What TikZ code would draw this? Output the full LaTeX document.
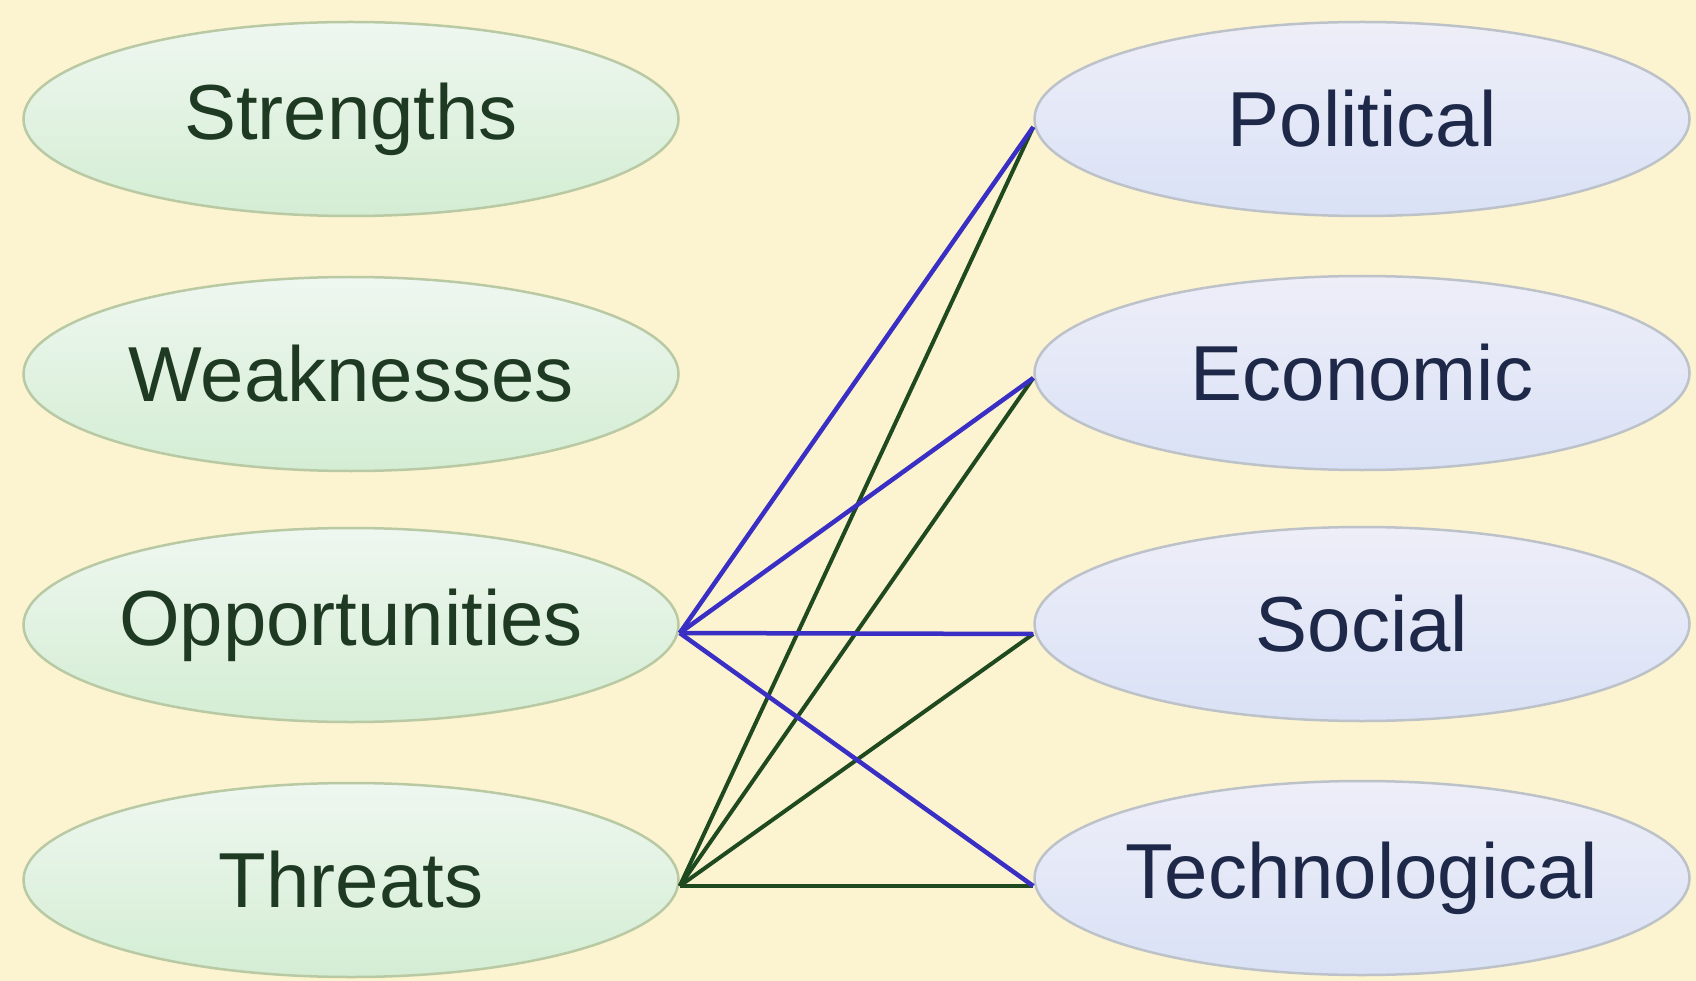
\documentclass[tikz,border=0pt]{standalone}
\usepackage{fontspec}
\setmainfont{Liberation Sans}
\usetikzlibrary{shapes.geometric}
\definecolor{bgc}{HTML}{FCF4D0}
\definecolor{gtop}{HTML}{EFF7F0}
\definecolor{gbot}{HTML}{D3EDD3}
\definecolor{gborder}{HTML}{B9C9A4}
\definecolor{gtext}{HTML}{1F3A22}
\definecolor{btop}{HTML}{EEEEF8}
\definecolor{bbot}{HTML}{D9E1F6}
\definecolor{bborder}{HTML}{BCC2C8}
\definecolor{btext}{HTML}{1E2848}
\definecolor{bline}{HTML}{3A2FC4}
\definecolor{gline}{HTML}{1F4A1F}
\tikzset{
  oval/.style={ellipse, inner sep=0pt, minimum width=655pt, minimum height=194pt,
    line width=2.5pt},
  txt/.style={font=\fontsize{78}{78}\selectfont, inner sep=0pt},
  swot/.style={oval, draw=gborder, top color=gtop, bottom color=gbot},
  pest/.style={oval, draw=bborder, top color=btop, bottom color=bbot},
  oline/.style={draw=bline, line width=4.5pt},
  tline/.style={draw=gline, line width=4pt}
}
\begin{document}
\begin{tikzpicture}[x=1pt,y=-1pt]
\fill[bgc] (0,0) rectangle (1696,981);
\useasboundingbox (0,0) rectangle (1696,981);
\node[swot] (S) at (351,119) {};
\node[swot] (W) at (351,374) {};
\node[swot] (O) at (351,625) {};
\node[swot] (T) at (351,880) {};
\node[pest] (P) at (1362,119) {};
\node[pest] (E) at (1362,373) {};
\node[pest] (So) at (1362,624) {};
\node[pest] (Te) at (1362,878) {};
\node[txt, text=gtext] (St) at (S) {Strengths};
\node[txt, text=gtext] (Wt) at (W) {Weaknesses};
\node[txt, text=gtext] (Ot) at (O) {Opportunities};
\node[txt, text=gtext] (Tt) at (T) {Threats};
\node[txt, text=btext] (Pt) at (P) {Political};
\node[txt, text=btext] (Et) at (E) {Economic};
\node[txt, text=btext] (Sot) at (So) {Social};
\node[txt, text=btext] (Tet) at (Te) {Technological};
\draw[tline] ([yshift=-6pt]T.east) -- ([yshift=-8pt]P.west);
\draw[tline] ([yshift=-6pt]T.east) -- ([yshift=-5pt]E.west);
\draw[tline] ([yshift=-6pt]T.east) -- ([yshift=-10pt]So.west);
\draw[tline] ([yshift=-6pt]T.east) -- ([yshift=-8pt]Te.west);
\draw[oline] ([yshift=-8pt]O.east) -- ([yshift=-8pt]P.west);
\draw[oline] ([yshift=-8pt]O.east) -- ([yshift=-5pt]E.west);
\draw[oline] ([yshift=-8pt]O.east) -- ([yshift=-10pt]So.west);
\draw[oline] ([yshift=-8pt]O.east) -- ([yshift=-8pt]Te.west);
\end{tikzpicture}
\end{document}
